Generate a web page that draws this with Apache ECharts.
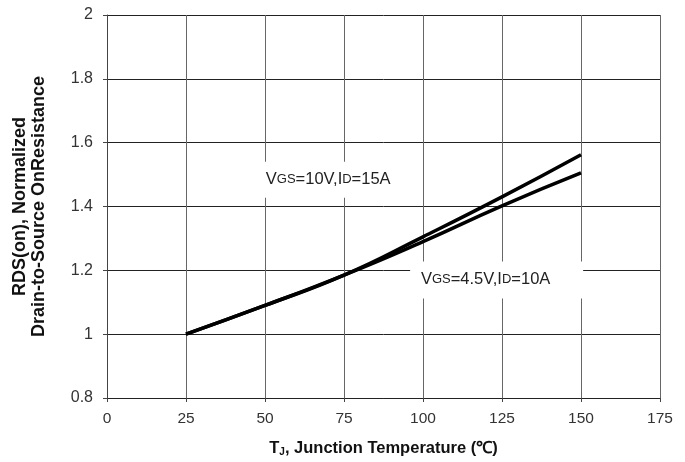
<!DOCTYPE html>
<html>
<head>
<meta charset="utf-8">
<script src="https://cdn.jsdelivr.net/npm/echarts@6/dist/echarts.min.js"></script>
<style>
	html, body { margin: 0; padding: 0; background: #fff; }
	#rdsChart { width: 685px; height: 462px; }
</style>
</head>
<body>
<div id="rdsChart"></div>
<script>
// junction temperature (°C)
var temps = [25, 50, 75, 100, 125, 150];
// normalized RDS(on)
var vgs10 = [1.0, 1.09, 1.185, 1.305, 1.43, 1.562];
var vgs45 = [1.0, 1.09, 1.185, 1.29, 1.402, 1.505];
var xTicks = [0, 175, 25];      // min, max, interval
var yTicks = [0.8, 2, 0.2];
// where the two curve captions sit, in data units
var label10At = [70, 1.484];
var label45At = [123.3, 1.17];

function pairs(xs, ys) {
	return xs.map(function(x, i) { return [x, ys[i]]; });
}

var sans = "'Liberation Sans', Arial, sans-serif";
var capRich = {
	a: { fontFamily: sans, fontSize: 16.5, color: '#222' },
	b: { fontFamily: sans, fontSize: 13, color: '#222' }
};

function caption(coord, text, offset, size) {
	return {
		coord: coord,
		symbol: 'rect',
		symbolSize: size,
		itemStyle: { color: '#fff' },
		label: {
			show: true,
			position: 'inside',
			offset: offset,
			formatter: text,
			rich: capRich
		}
	};
}

var chart = echarts.init(document.getElementById('rdsChart'));
var option = {
	animation: false,
	backgroundColor: '#fff',
	grid: { left: 107, right: 25, top: 15, bottom: 64 },
	xAxis: {
		type: 'value',
		min: xTicks[0], max: xTicks[1], interval: xTicks[2],
		name: 'T{s|J}, Junction Temperature (℃)',
		nameLocation: 'middle',
		nameGap: 42,
		nameTextStyle: {
			fontFamily: sans, fontWeight: 'bold', fontSize: 16.5, color: '#111',
			rich: {
				s: { fontFamily: sans, fontWeight: 'bold', fontSize: 10, color: '#111', padding: [7, 0, 0, 0] }
			}
		},
		axisLine: { show: true, lineStyle: { color: '#222', width: 1 } },
		axisTick: { show: true, length: 4, lineStyle: { color: '#444' } },
		axisLabel: { margin: 13, fontFamily: sans, fontSize: 15.5, color: '#333' },
		splitLine: { show: true, lineStyle: { color: '#666', width: 1 } }
	},
	yAxis: {
		type: 'value',
		min: yTicks[0], max: yTicks[1], interval: yTicks[2],
		name: 'RDS(on), Normalized\nDrain-to-Source OnResistance',
		nameLocation: 'middle',
		nameGap: 58,
		nameTextStyle: {
			fontFamily: sans, fontWeight: 'bold',
			fontSize: 18, lineHeight: 19, color: '#111'
		},
		axisLine: { show: true, lineStyle: { color: '#444', width: 1 } },
		axisTick: { show: true, length: 4, lineStyle: { color: '#444' } },
		axisLabel: { margin: 14, fontFamily: sans, fontSize: 16, color: '#333' },
		splitLine: { show: true, lineStyle: { color: '#222', width: 1 } }
	},
	series: [{
		name: 'VGS=10V,ID=15A',
		type: 'line',
		smooth: true,
		symbol: 'none',
		data: pairs(temps, vgs10),
		lineStyle: { color: '#000', width: 3.5 },
		markPoint: {
			silent: true,
			data: [
				caption(label10At, '{a|V}{b|GS}{a|=10V,I}{b|D}{a|=15A}', [0, 0], [145, 36]),
				caption(label45At, '{a|V}{b|GS}{a|=4.5V,I}{b|D}{a|=10A}', [-11, 0], [173, 37])
			]
		}
	}, {
		name: 'VGS=4.5V,ID=10A',
		type: 'line',
		smooth: true,
		symbol: 'none',
		data: pairs(temps, vgs45),
		lineStyle: { color: '#000', width: 3.5 }
	}]
};
chart.setOption(option);
</script>
</body>
</html>
